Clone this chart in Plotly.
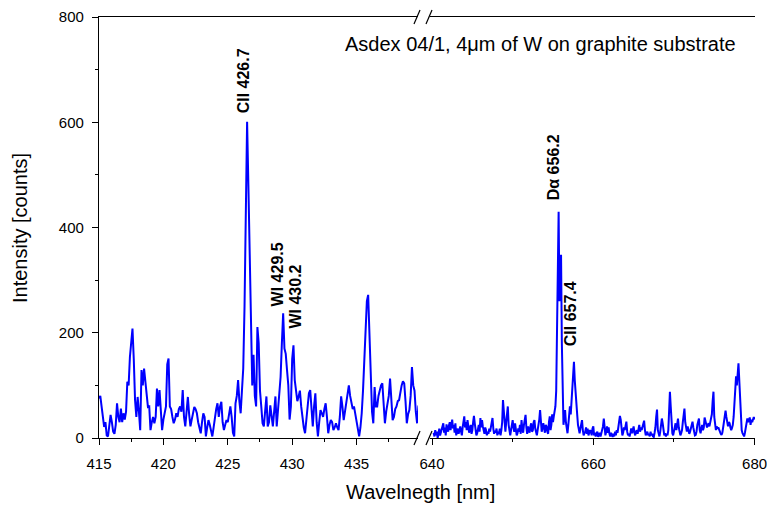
import plotly.graph_objects as go

# ---------------- data ----------------
left_start = 415.0
right_start = 640.2
wl_step = 0.1

intensity_left = [
    75, 80, 60, 35, 21, 30, 5, 3, 20, 44,
    30, 12, 8, 25, 66, 40, 30, 56, 30, 47,
    35, 50, 107, 100, 154, 180, 208, 150, 72, 40,
    78, 50, 15, 129, 100, 132, 110, 78, 59, 60,
    15, 30, 40, 28, 40, 94, 60, 91, 40, 15,
    35, 47, 60, 140, 151, 60, 55, 40, 28, 35,
    47, 40, 55, 60, 50, 91, 40, 22, 60, 78,
    45, 22, 35, 50, 59, 55, 47, 30, 20, 9,
    30, 47, 40, 3, 20, 34, 25, 10, 3, 20,
    40, 55, 66, 40, 60, 69, 30, 15, 25, 34,
    30, 45, 60, 40, 10, 3, 66, 80, 110, 70,
    47, 90, 132, 250, 485, 601, 480, 350, 200, 100,
    158, 80, 60, 211, 180, 90, 60, 28, 22, 60,
    79, 22, 30, 62, 40, 22, 50, 79, 22, 60,
    80, 116, 180, 237, 170, 160, 129, 100, 35, 60,
    150, 176, 110, 85, 70, 79, 90, 60, 34, 20,
    9, 40, 66, 85, 91, 50, 22, 60, 85, 30,
    3, 30, 53, 47, 40, 55, 66, 40, 9, 25,
    34, 30, 15, 20, 28, 20, 15, 40, 79, 60,
    34, 50, 66, 85, 100, 80, 66, 55, 60, 45,
    28, 15, 3, 20, 47, 90, 155, 220, 260, 272,
    200, 123, 50, 28, 97, 60, 60, 80, 91, 100,
    104, 60, 28, 50, 66, 80, 113, 75, 34, 40,
    55, 60, 70, 72, 90, 100, 108, 104, 70, 28,
    45, 53, 80, 135, 100, 90, 50, 28, 60, 66,
    40,
]

intensity_right = [
    10, 3, 15, 5, 12, 0, 8, 18, 5, 10,
    14, 22, 28, 10, 20, 5, 26, 18, 12, 24,
    30, 15, 22, 35, 18, 25, 10, 28, 5, 12,
    18, 8, 15, 22, 12, 5, 20, 28, 41, 20,
    30, 15, 34, 22, 10, 18, 25, 8, 15, 30,
    42, 28, 12, 5, 9, 18, 25, 12, 38, 20,
    34, 22, 15, 8, 20, 15, 5, 12, 8, 18,
    12, 20, 30, 38, 18, 8, 14, 10, 18, 5,
    12, 8, 18, 5, 15, 30, 72, 45, 20, 12,
    30, 45, 60, 25, 10, 5, 15, 22, 34, 20,
    12, 28, 15, 5, 9, 18, 12, 25, 8, 34,
    18, 10, 25, 35, 44, 20, 8, 22, 15, 10,
    22, 28, 12, 15, 30, 34, 18, 10, 5, 15,
    22, 35, 53, 30, 12, 20, 28, 18, 10, 25,
    22, 12, 8, 30, 41, 15, 25, 45, 30, 41,
    53, 60, 90, 200, 380, 430, 260, 300, 348, 180,
    60, 25, 40, 53, 30, 12, 9, 25, 45, 60,
    45, 70, 100, 130, 145, 110, 80, 72, 45, 25,
    15, 9, 18, 28, 34, 15, 5, 9, 12, 20,
    8, 18, 5, 10, 15, 12, 5, 18, 22, 5,
    10, 3, 8, 12, 2, 5, 10, 3, 8, 15,
    22, 37, 18, 5, 12, 22, 10, 20, 8, 3,
    10, 5, 2, 8, 3, 12, 5, 15, 10, 20,
    30, 42, 35, 12, 5, 10, 20, 15, 22, 31,
    12, 5, 8, 3, 10, 18, 9, 15, 22, 10,
    5, 12, 15, 8, 18, 25, 12, 20, 15, 22,
    28, 33, 15, 5, 9, 12, 5, 8, 3, 12,
    5, 8, 3, 2, 10, 20, 40, 54, 15, 5,
    3, 12, 25, 37, 28, 10, 5, 9, 3, 8,
    5, 15, 40, 88, 60, 15, 9, 5, 12, 20,
    28, 15, 25, 37, 20, 12, 5, 9, 15, 30,
    45, 56, 30, 15, 12, 22, 15, 8, 12, 18,
    25, 31, 20, 10, 5, 6, 12, 25, 30, 37,
    15, 9, 18, 25, 15, 20, 39, 30, 22, 20,
    25, 28, 22, 30, 34, 45, 70, 88, 40, 19,
    15, 22, 18, 20, 15, 10, 8, 6, 10, 20,
    35, 45, 52, 40, 28, 22, 30, 28, 20, 15,
    19, 25, 40, 70, 95, 117, 100, 130, 142, 110,
    66, 30, 15, 9, 5, 3, 10, 20, 30, 37,
    30, 35, 39, 25, 35, 30, 38, 40, 35,
]

wl_left = [round(left_start + wl_step * i, 2) for i in range(len(intensity_left))]
wl_right = [round(right_start + wl_step * i, 2) for i in range(len(intensity_right))]

left_ticks = [415, 420, 425, 430, 435]
right_ticks = [640, 660, 680]
y_ticks = [0, 200, 400, 600, 800]

line_labels = ["CII 426.7", "WI 429.5", "WI 430.2"]
line_label_x = [426.18, 428.85, 430.25]
line_label_y = [614, 247, 205]
line_labels_r = ["D\u03b1 656.2", "CII 657.4"]
line_label_x_r = [655.0, 657.2]
line_label_y_r = [448, 171]

title_text = "Asdex 04/1, 4\u03bcm of W on graphite substrate"

# ---------------- figure ----------------
FONT = "Liberation Sans, Arial, sans-serif"
BLUE = "#0000ff"
W, H = 767, 505
L, R, T, B = 99, 12, 17, 67
PW = W - L - R
PH = H - T - B


def px(xp):
    return (xp - L) / PW


def py(yp):
    return (H - B - yp) / PH


fig = go.Figure()
fig.add_trace(go.Scatter(x=wl_left, y=intensity_left, mode="lines",
                         line=dict(color=BLUE, width=2), xaxis="x", yaxis="y",
                         showlegend=False, hoverinfo="skip"))
fig.add_trace(go.Scatter(x=wl_right, y=intensity_right, mode="lines",
                         line=dict(color=BLUE, width=2), xaxis="x2", yaxis="y",
                         showlegend=False, hoverinfo="skip"))

axis_common = dict(showline=True, linecolor="black", linewidth=1.2, showgrid=False,
                   zeroline=False, tickfont=dict(family=FONT, size=15, color="black"),
                   tickcolor="black", ticks="outside", ticklen=6, tickwidth=1.2,
                   automargin=False, ticklabeloverflow="allow")

fig.update_layout(
    width=W, height=H,
    margin=dict(l=L, r=R, t=T, b=B, autoexpand=False),
    paper_bgcolor="white", plot_bgcolor="white",
    xaxis=dict(domain=[0, px(418)], range=[415, 439.77], tickvals=left_ticks,
               mirror=True, anchor="y", ticklabelstandoff=6,
               minor=dict(dtick=2.5, tick0=415, ticks="outside", ticklen=3,
                          tickcolor="black", tickwidth=1.2),
               **axis_common),
    xaxis2=dict(domain=[px(430), 1], range=[639.75, 680.05], tickvals=right_ticks,
                mirror=True, anchor="y", ticklabelstandoff=6,
                minor=dict(dtick=10, tick0=640, ticks="outside", ticklen=3,
                           tickcolor="black", tickwidth=1.2),
                **axis_common),
    yaxis=dict(range=[0, 800], tickvals=y_ticks, anchor="x", ticklabelstandoff=5,
               minor=dict(dtick=100, tick0=0, ticks="outside", ticklen=3,
                          tickcolor="black", tickwidth=1.2),
               **axis_common),
    yaxis2=dict(range=[0, 800], overlaying="y", anchor="x2", side="right",
                showline=True, linecolor="black", linewidth=1.2, showgrid=False,
                zeroline=False, showticklabels=False, tickvals=y_ticks,
                ticks="inside", ticklen=6, tickcolor="black", tickwidth=1.2,
                automargin=False,
                minor=dict(dtick=100, tick0=0, ticks="inside", ticklen=3,
                           tickcolor="black", tickwidth=1.2)),
)

ann = []
for t, x, y in zip(line_labels, line_label_x, line_label_y):
    ann.append(dict(text="<b>%s</b>" % t, x=x, y=y, xref="x", yref="y",
                    textangle=-90, showarrow=False, xanchor="center", yanchor="bottom",
                    font=dict(family=FONT, size=16, color="black")))
for t, x, y in zip(line_labels_r, line_label_x_r, line_label_y_r):
    ann.append(dict(text="<b>%s</b>" % t, x=x, y=y, xref="x2", yref="y",
                    textangle=-90, showarrow=False, xanchor="center", yanchor="bottom",
                    font=dict(family=FONT, size=16, color="black")))
ann.append(dict(text=title_text, x=px(738), y=py(44), xref="paper", yref="paper",
                showarrow=False, xanchor="right", yanchor="middle",
                font=dict(family=FONT, size=20, color="black")))
ann.append(dict(text="Wavelnegth [nm]", x=px(420), y=py(492), xref="paper", yref="paper",
                showarrow=False, xanchor="center", yanchor="middle",
                font=dict(family=FONT, size=20, color="black")))
ann.append(dict(text="Intensity [counts]", x=px(20), y=py(228), xref="paper", yref="paper",
                textangle=-90, showarrow=False, xanchor="center", yanchor="middle",
                font=dict(family=FONT, size=20, color="black")))
fig.update_layout(annotations=ann)

# axis-break marks
shapes = []
for yc in (438, 17):
    for xc in (417, 429):
        shapes.append(dict(type="line", xref="paper", yref="paper",
                           x0=px(xc - 3), y0=py(yc + 7), x1=px(xc + 3), y1=py(yc - 7),
                           line=dict(color="black", width=1.2)))
fig.update_layout(shapes=shapes)

fig.write_html("out.html")
